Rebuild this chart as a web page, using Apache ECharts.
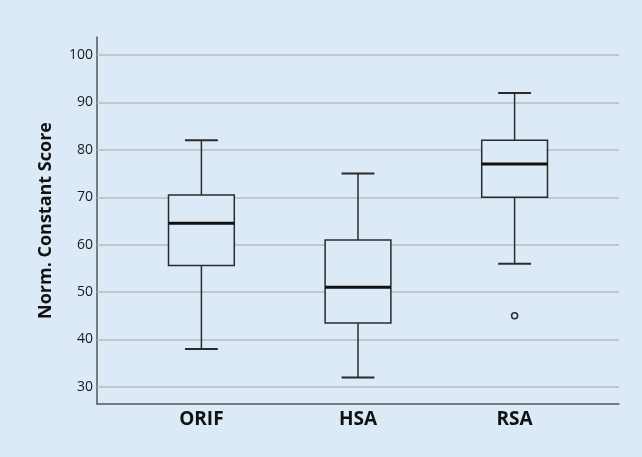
<!DOCTYPE html>
<html>
<head>
<meta charset="utf-8">
<script src="https://cdn.jsdelivr.net/npm/echarts@6/dist/echarts.min.js"></script>
<style>
html,body{margin:0;padding:0;background:#dce9f6;}
#chart{width:642px;height:457px;}
</style>
</head>
<body>
<div id="chart"></div>
<script>
// ---- data ----
const categories = ['ORIF', 'HSA', 'RSA'];
const whiskerLow  = [38, 32, 56];
const q1          = [55.6, 43.5, 70];
const medians     = [64.5, 51, 77];
const q3          = [70.5, 61, 82];
const whiskerHigh = [82, 75, 92];
const outliers    = [[2, 45]];       // [category index, value]
const yTicks      = [30, 40, 50, 60, 70, 80, 90, 100];

const BG = '#dce9f6';
const boxData = categories.map((c, i) => [i, whiskerLow[i], q1[i], medians[i], q3[i], whiskerHigh[i]]);

const chart = echarts.init(document.getElementById('chart'), null, {renderer: 'canvas'});

function renderBox(params, api) {
  const x = api.value(0);
  const lo = api.value(1), a = api.value(2), m = api.value(3), b = api.value(4), hi = api.value(5);
  const halfBox = 0.21, halfCap = 0.105;
  const pLo = api.coord([x, lo]), pA = api.coord([x, a]), pM = api.coord([x, m]);
  const pB = api.coord([x, b]), pHi = api.coord([x, hi]);
  const left = api.coord([x - halfBox, m])[0], right = api.coord([x + halfBox, m])[0];
  const capL = api.coord([x - halfCap, m])[0], capR = api.coord([x + halfCap, m])[0];
  const lineStyle = {stroke: '#2b2b2b', lineWidth: 1.5, fill: null};
  return {
    type: 'group',
    children: [
      {type: 'line', shape: {x1: pHi[0], y1: pHi[1], x2: pB[0], y2: pB[1]}, style: lineStyle},
      {type: 'line', shape: {x1: pLo[0], y1: pLo[1], x2: pA[0], y2: pA[1]}, style: lineStyle},
      {type: 'line', shape: {x1: capL, y1: pHi[1], x2: capR, y2: pHi[1]}, style: {stroke: '#2b2b2b', lineWidth: 2}},
      {type: 'line', shape: {x1: capL, y1: pLo[1], x2: capR, y2: pLo[1]}, style: {stroke: '#2b2b2b', lineWidth: 2}},
      {type: 'rect', shape: {x: left, y: pB[1], width: right - left, height: pA[1] - pB[1]},
        style: {fill: BG, stroke: '#2b2b2b', lineWidth: 1.5}},
      {type: 'line', shape: {x1: left, y1: pM[1], x2: right, y2: pM[1]}, style: {stroke: '#111', lineWidth: 3}}
    ]
  };
}

chart.setOption({
  backgroundColor: BG,
  animation: false,
  grid: {left: 97, right: 23, top: 37, bottom: 53},
  xAxis: {
    type: 'value',
    min: -2 / 3,
    max: 8 / 3,
    axisLine: {show: true, onZero: false, lineStyle: {color: '#555', width: 1.5}},
    axisTick: {show: false},
    splitLine: {show: false},
    axisLabel: {
      customValues: categories.map((c, i) => i),
      formatter: v => categories[Math.round(v)] || '',
      color: '#111',
      fontFamily: 'Open Sans',
      fontWeight: 'bold',
      fontSize: 19,
      margin: 6
    }
  },
  yAxis: {
    type: 'value',
    min: 26.4,
    max: 103.8,
    name: 'Norm. Constant Score',
    nameLocation: 'middle',
    nameGap: 42,
    nameTextStyle: {color: '#111', fontFamily: 'Open Sans', fontWeight: 'bold', fontSize: 18},
    axisLine: {show: true, onZero: false, lineStyle: {color: '#555', width: 1.5}},
    axisTick: {show: false},
    splitLine: {show: false},
    axisLabel: {
      customValues: yTicks,
      color: '#1a1a1a',
      fontFamily: 'Open Sans',
      fontSize: 14,
      margin: 4
    }
  },
  series: [
    {
      type: 'custom',
      renderItem: renderBox,
      data: boxData,
      z: 3,
      markLine: {
        silent: true,
        symbol: 'none',
        label: {show: false},
        lineStyle: {color: '#b3bcc5', width: 1.5, type: 'solid'},
        data: yTicks.map(v => ({yAxis: v})),
        z: 1
      }
    },
    {
      type: 'scatter',
      data: outliers,
      symbol: 'circle',
      symbolSize: 6,
      itemStyle: {color: BG, borderColor: '#2b2b2b', borderWidth: 1.5, opacity: 1},
      z: 4
    }
  ]
});
</script>
</body>
</html>
